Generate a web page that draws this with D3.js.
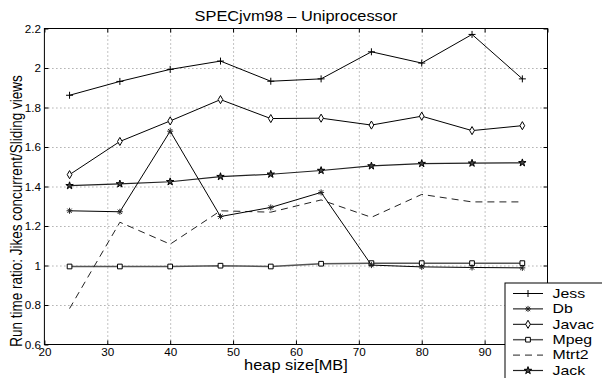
<!DOCTYPE html>
<html>
<head>
<meta charset="utf-8">
<script src="https://cdn.jsdelivr.net/npm/d3@7"></script>
<style>
  body { margin: 0; background: #fff; }
  svg { display: block; }
  text { font-family: "Liberation Sans", Arial, Helvetica, sans-serif; fill: #000; }
</style>
</head>
<body>
<div id="chart"></div>
<script>
var heapSizes = [24, 32, 40, 48, 56, 64, 72, 80, 88, 96];
var jess  = [1.862, 1.932, 1.993, 2.035, 1.933, 1.945, 2.082, 2.025, 2.170, 1.945];
var db    = [1.277, 1.272, 1.680, 1.248, 1.294, 1.370, 1.002, 0.993, 0.990, 0.988];
var javac = [1.460, 1.628, 1.732, 1.840, 1.744, 1.746, 1.711, 1.756, 1.683, 1.708];
var mpeg  = [0.995, 0.995, 0.995, 0.999, 0.995, 1.009, 1.012, 1.012, 1.012, 1.012];
var mtrt2 = [0.782, 1.219, 1.108, 1.277, 1.270, 1.332, 1.244, 1.360, 1.322, 1.322];
var jack  = [1.404, 1.413, 1.424, 1.450, 1.462, 1.481, 1.504, 1.516, 1.518, 1.520];
var seriesNames = ["Jess", "Db", "Javac", "Mpeg", "Mtrt2", "Jack"];
var xTicks = [20, 30, 40, 50, 60, 70, 80, 90, 100];
var yTicks = [0.6, 0.8, 1.0, 1.2, 1.4, 1.6, 1.8, 2.0, 2.2];
var titleText = "SPECjvm98 \u2013 Uniprocessor";
var xLabel = "heap size[MB]";
var yLabel = "Run time ratio: Jikes concurrent/Sliding views";

var width = 602, height = 378;
var stretch = 1.17; // the original figure is a bit wider than tall

var svg = d3.select("#chart").append("svg")
    .attr("width", width)
    .attr("height", height);

var x = d3.scaleLinear().domain([20, 100]).range([44.4, 547.5]);
var y = d3.scaleLinear().domain([0.6, 2.2]).range([344.5, 28.5]);
var plotW = x(100) - x(20), plotH = y(0.6) - y(2.2);

// grid
svg.append("g")
    .attr("class", "grid")
    .attr("transform", "translate(0," + y(0.6) + ")")
    .call(d3.axisBottom(x).tickValues(xTicks.slice(1, -1)).tickSize(-plotH).tickFormat(""));
svg.append("g")
    .attr("class", "grid")
    .attr("transform", "translate(" + x(20) + ",0)")
    .call(d3.axisLeft(y).tickValues(yTicks.slice(1, -1)).tickSize(-plotW).tickFormat(""));
svg.selectAll(".grid .domain").remove();
svg.selectAll(".grid line")
    .attr("stroke", "#888")
    .attr("stroke-dasharray", "1,3");

// frame + inward ticks on all sides
var fmt = function(d){ return String(+d.toFixed(1)); };
// the last x label sits under the legend box in the original, so it is left out
var xFmt = function(d){ return d === 100 ? "" : fmt(d); };
var xAxis = svg.append("g")
    .attr("transform", "translate(0," + y(0.6) + ")")
    .call(d3.axisBottom(x).tickValues(xTicks).tickSize(-4).tickFormat(xFmt));
xAxis.selectAll("text")
    .attr("y", null).attr("dy", null)
    .attr("font-size", 10)
    .attr("transform", "translate(0,11.5) scale(" + stretch + ",1)");
var yAxis = svg.append("g")
    .attr("transform", "translate(" + x(20) + ",0)")
    .call(d3.axisLeft(y).tickValues(yTicks).tickSize(-4).tickFormat(fmt));
yAxis.selectAll("text")
    .attr("x", null).attr("dy", "0.35em")
    .attr("font-size", 10)
    .attr("transform", "translate(-3.5,0) scale(" + stretch + ",1)");
svg.append("g")
    .attr("transform", "translate(0," + y(2.2) + ")")
    .call(d3.axisTop(x).tickValues(xTicks).tickSize(-4).tickFormat(""));
svg.append("g")
    .attr("transform", "translate(" + x(100) + ",0)")
    .call(d3.axisRight(y).tickValues(yTicks).tickSize(-4).tickFormat(""));
svg.selectAll(".domain").remove();
svg.selectAll(".tick line").filter(function(){ return !this.closest(".grid"); })
    .attr("stroke", "#000");
svg.append("rect")
    .attr("x", x(20)).attr("y", y(2.2))
    .attr("width", plotW).attr("height", plotH)
    .attr("fill", "none").attr("stroke", "#000").attr("stroke-width", 1);

// marker shapes
function plusPath(r){ return "M" + (-r) + ",0H" + r + "M0," + (-r) + "V" + r; }
function asteriskPath(r){
    var p = "M" + (-r) + ",0H" + r + "M0," + (-r) + "V" + r;
    var a = r * 0.72;
    return p + "M" + (-a) + "," + (-a) + "L" + a + "," + a + "M" + (-a) + "," + a + "L" + a + "," + (-a);
}
var markers = {
    Jess:  { path: plusPath(3.5), fill: "none", stroke: "#000" },
    Db:    { path: asteriskPath(3), fill: "none", stroke: "#222" },
    Javac: { path: d3.symbol(d3.symbolDiamond, 19)(), fill: "#fff", stroke: "#000" },
    Mpeg:  { path: d3.symbol(d3.symbolSquare, 22)(), fill: "#fff", stroke: "#000" },
    Mtrt2: { path: null },
    Jack:  { path: d3.symbol(d3.symbolStar, 17)(), fill: "#444", stroke: "#000" }
};
var lineStyle = {
    Jess:  { stroke: "#000", width: 1, dash: null },
    Db:    { stroke: "#000", width: 1, dash: null },
    Javac: { stroke: "#000", width: 1, dash: null },
    Mpeg:  { stroke: "#555", width: 1.5, dash: null },
    Mtrt2: { stroke: "#222", width: 1, dash: "7,5" },
    Jack:  { stroke: "#222", width: 1.2, dash: null }
};

var seriesValues = { Jess: jess, Db: db, Javac: javac, Mpeg: mpeg, Mtrt2: mtrt2, Jack: jack };
var series = seriesNames.map(function(name){
    return {
        name: name,
        values: heapSizes.map(function(h, i){ return { h: h, v: seriesValues[name][i] }; })
    };
});

var line = d3.line()
    .x(function(d){ return x(d.h); })
    .y(function(d){ return y(d.v); });

var drawOrder = ["Mpeg", "Mtrt2", "Jack", "Javac", "Db", "Jess"];
drawOrder.forEach(function(name){
    var s = series.find(function(d){ return d.name === name; });
    var st = lineStyle[name], mk = markers[name];
    svg.append("path")
        .datum(s.values)
        .attr("d", line)
        .attr("fill", "none")
        .attr("stroke", st.stroke)
        .attr("stroke-width", st.width)
        .attr("stroke-dasharray", st.dash);
    if (mk.path) {
        svg.selectAll(".mk-" + name)
            .data(s.values)
            .enter().append("path")
            .attr("class", "mk-" + name)
            .attr("d", mk.path)
            .attr("transform", function(d){ return "translate(" + x(d.h) + "," + y(d.v) + ")"; })
            .attr("fill", mk.fill)
            .attr("stroke", mk.stroke)
            .attr("stroke-width", 1);
    }
});

// titles
svg.append("text")
    .attr("text-anchor", "middle")
    .attr("font-size", 14)
    .attr("transform", "translate(" + (x(20) + plotW / 2) + ",21) scale(" + stretch + ",1)")
    .text(titleText);
svg.append("text")
    .attr("text-anchor", "middle")
    .attr("font-size", 14)
    .attr("transform", "translate(" + (x(20) + plotW / 2) + ",370) scale(" + stretch + ",1)")
    .text(xLabel);
svg.append("text")
    .attr("text-anchor", "middle")
    .attr("font-size", 13.5)
    .attr("transform", "translate(22,211) scale(" + stretch + ",1) rotate(-90)")
    .text(yLabel);

// legend
var legend = svg.append("g").attr("transform", "translate(505,283)");
legend.append("rect")
    .attr("width", 120).attr("height", 120)
    .attr("fill", "#fff").attr("stroke", "#000").attr("stroke-width", 1);
var items = legend.selectAll(".legend-item")
    .data(seriesNames)
    .enter().append("g")
    .attr("class", "legend-item")
    .attr("transform", function(d, i){ return "translate(0," + (10.5 + i * 15.4) + ")"; });
items.append("line")
    .attr("x1", 8).attr("x2", 38)
    .attr("stroke", function(d){ return lineStyle[d].stroke; })
    .attr("stroke-width", function(d){ return lineStyle[d].width; })
    .attr("stroke-dasharray", function(d){ return lineStyle[d].dash; });
items.filter(function(d){ return markers[d].path; })
    .append("path")
    .attr("transform", "translate(23,0)")
    .attr("d", function(d){ return markers[d].path; })
    .attr("fill", function(d){ return markers[d].fill; })
    .attr("stroke", function(d){ return markers[d].stroke; });
items.append("text")
    .attr("font-size", 12.5)
    .attr("dy", "0.35em")
    .attr("transform", "translate(47.5,0) scale(1.27,1)")
    .text(function(d){ return d; });
</script>
</body>
</html>
